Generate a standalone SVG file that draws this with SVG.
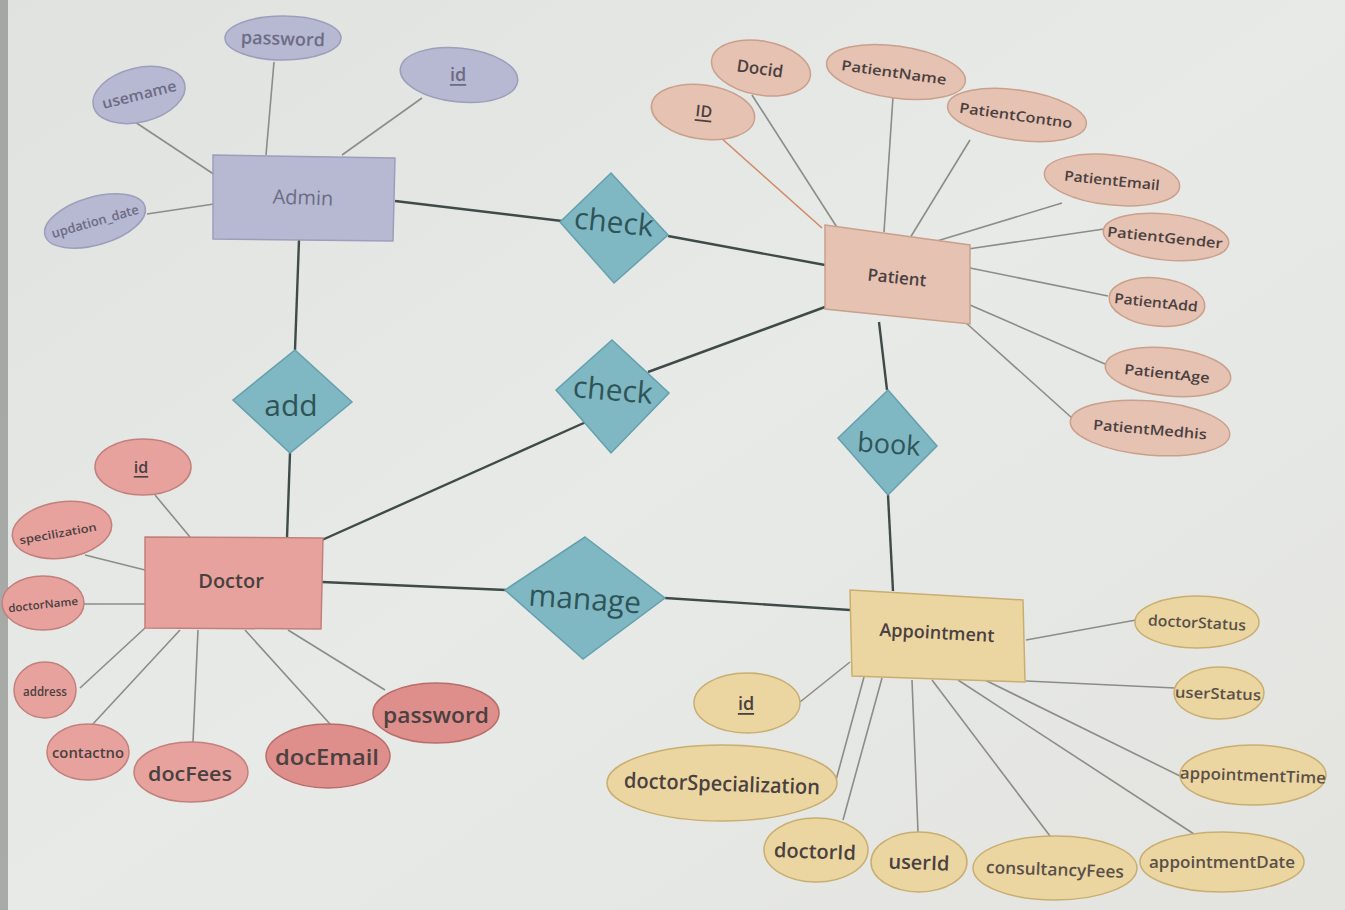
<svg xmlns="http://www.w3.org/2000/svg" width="1345" height="910" viewBox="0 0 1345 910">
<defs>
<linearGradient id="bg" x1="0" y1="0" x2="1" y2="1">
<stop offset="0" stop-color="#e0e2df"/>
<stop offset="0.5" stop-color="#e8eae7"/>
<stop offset="1" stop-color="#e3e4e0"/>
</linearGradient>
</defs>
<style>
text{font-family:"Open Sans","Noto Sans","Liberation Sans",sans-serif;text-anchor:middle;dominant-baseline:central}
.attr{stroke:#8c8c88;stroke-width:1.6;fill:none}
.rel{stroke:#3e4b49;stroke-width:2.4;fill:none}
.adm{fill:#b7b8d2;stroke:#9d9ebb;stroke-width:1.5}
.pat{fill:#e6c2b2;stroke:#caa08c;stroke-width:1.5}
.doc{fill:#e8a29e;stroke:#c2807c;stroke-width:1.5}
.doc2{fill:#de8e8b;stroke:#b86e6a;stroke-width:1.5}
.app{fill:#ebd6a2;stroke:#c9ae70;stroke-width:1.5}
.dia{fill:#7fb7c3;stroke:#64a0ad;stroke-width:1.5}
.dt{fill:#2f5457;font-size:30px}
.at2{fill:#4a4040;font-weight:600}
.apt{fill:#5a5048;font-weight:600}
.adt{fill:#6c6c84;font-weight:600}
</style>
<rect width="1345" height="910" fill="url(#bg)"/>
<rect x="0" y="0" width="8" height="910" fill="#6a6c6a" opacity="0.5"/>

<g id="connectors">
<line class="attr" x1="135" y1="122" x2="215" y2="175"/>
<line class="attr" x1="274" y1="62" x2="266" y2="155"/>
<line class="attr" x1="422" y1="98" x2="342" y2="155"/>
<line class="attr" x1="147" y1="214" x2="214" y2="204"/>
<line x1="720" y1="137" x2="822" y2="228" stroke="#d08a6a" stroke-width="1.6"/>
<line class="attr" x1="752" y1="95" x2="840" y2="232"/>
<line class="attr" x1="893" y1="97" x2="884" y2="232"/>
<line class="attr" x1="970" y1="140" x2="910" y2="238"/>
<line class="attr" x1="1062" y1="203" x2="937" y2="241"/>
<line class="attr" x1="1104" y1="229" x2="968" y2="249"/>
<line class="attr" x1="1108" y1="296" x2="970" y2="268"/>
<line class="attr" x1="1105" y1="364" x2="970" y2="305"/>
<line class="attr" x1="1072" y1="418" x2="965" y2="322"/>
<line class="attr" x1="155" y1="495" x2="190" y2="537"/>
<line class="attr" x1="85" y1="555" x2="145" y2="570"/>
<line class="attr" x1="83" y1="604" x2="145" y2="604"/>
<line class="attr" x1="80" y1="688" x2="145" y2="628"/>
<line class="attr" x1="92" y1="725" x2="180" y2="630"/>
<line class="attr" x1="193" y1="742" x2="198" y2="630"/>
<line class="attr" x1="330" y1="724" x2="245" y2="630"/>
<line class="attr" x1="385" y1="690" x2="288" y2="630"/>
<line class="attr" x1="1026" y1="640" x2="1136" y2="620"/>
<line class="attr" x1="1026" y1="681" x2="1175" y2="688"/>
<line class="attr" x1="985" y1="680" x2="1180" y2="776"/>
<line class="attr" x1="958" y1="680" x2="1197" y2="836"/>
<line class="attr" x1="932" y1="680" x2="1050" y2="836"/>
<line class="attr" x1="912" y1="680" x2="918" y2="832"/>
<line class="attr" x1="882" y1="678" x2="843" y2="820"/>
<line class="attr" x1="864" y1="677" x2="836" y2="780"/>
<line class="attr" x1="850" y1="662" x2="800" y2="702"/>
<line class="rel" x1="395" y1="201" x2="562" y2="221"/>
<line class="rel" x1="668" y1="236" x2="825" y2="265"/>
<line class="rel" x1="825" y1="307" x2="648" y2="372"/>
<line class="rel" x1="586" y1="422" x2="322" y2="540"/>
<line class="rel" x1="299" y1="240" x2="295" y2="350"/>
<line class="rel" x1="290" y1="453" x2="287" y2="538"/>
<line class="rel" x1="322" y1="582" x2="506" y2="590"/>
<line class="rel" x1="665" y1="598" x2="850" y2="610"/>
<line class="rel" x1="879" y1="322" x2="887" y2="390"/>
<line class="rel" x1="888" y1="495" x2="893" y2="591"/>
</g>

<g id="admin">
<polygon class="adm" points="213,155 395,158 393,241 213,239"/>
<text x="303" y="197" font-size="20" class="adt" style="font-weight:400" transform="rotate(2 303 197)">Admin</text>
</g>
<g id="admin-password">
<ellipse class="adm" cx="283" cy="38" rx="58" ry="22"/>
<text x="283" y="38" font-size="18" class="adt" transform="rotate(2 283 38)">password</text>
</g>
<g id="admin-id">
<ellipse class="adm" cx="459" cy="75" rx="59" ry="27" transform="rotate(6 459 75)"/>
<text x="458" y="74" font-size="18" class="adt" text-decoration="underline">id</text>
</g>
<g id="admin-username">
<ellipse class="adm" cx="139" cy="95" rx="47" ry="27" transform="rotate(-14 139 95)"/>
<text x="139" y="94" font-size="15" class="adt" transform="rotate(-14 139 94)" textLength="76" lengthAdjust="spacingAndGlyphs">usemame</text>
</g>
<g id="admin-updation">
<ellipse class="adm" cx="95" cy="221" rx="52" ry="24" transform="rotate(-16 95 221)"/>
<text x="95" y="221" font-size="13" class="adt" transform="rotate(-16 95 221)" textLength="90" lengthAdjust="spacingAndGlyphs">updation_date</text>
</g>

<g id="check-admin-patient">
<polygon class="dia" points="611,173 668,235 614,283 560,222"/>
<text class="dt" x="614" y="221" transform="rotate(6 614 221)">check</text>
</g>
<g id="check-doctor-patient">
<polygon class="dia" points="612,340 669,393 611,453 556,390"/>
<text class="dt" x="613" y="389" transform="rotate(5 613 389)">check</text>
</g>
<g id="add">
<polygon class="dia" points="295,350 352,402 290,453 233,400"/>
<text class="dt" x="291" y="404">add</text>
</g>
<g id="manage">
<polygon class="dia" points="585,537 665,598 583,659 505,590"/>
<text class="dt" x="585" y="598" transform="rotate(4 585 598)">manage</text>
</g>
<g id="book">
<polygon class="dia" points="888,390 937,446 888,495 838,438"/>
<text class="dt" x="889" y="443" style="font-size:27px" transform="rotate(4 889 443)">book</text>
</g>

<g id="patient">
<polygon class="pat" points="825,225 970,245 970,324 825,309"/>
<text x="897" y="277" font-size="17" class="at2" transform="rotate(6 897 277)">Patient</text>
</g>
<g id="patient-ID">
<ellipse class="pat" cx="703" cy="112" rx="52" ry="27" transform="rotate(8 703 112)"/>
<text x="704" y="111" font-size="16" class="at2" text-decoration="underline" transform="rotate(6 704 111)">ID</text>
</g>
<g id="patient-docid">
<ellipse class="pat" cx="761" cy="68" rx="50" ry="27" transform="rotate(10 761 68)"/>
<text x="760" y="68" font-size="17" class="at2" transform="rotate(8 760 68)">Docid</text>
</g>
<g id="patient-name">
<ellipse class="pat" cx="896" cy="72" rx="70" ry="26" transform="rotate(8 896 72)"/>
<text x="894" y="72" font-size="14" class="at2" transform="rotate(8 894 72)" textLength="106" lengthAdjust="spacingAndGlyphs">PatientName</text>
</g>
<g id="patient-contno">
<ellipse class="pat" cx="1017" cy="115" rx="70" ry="25" transform="rotate(8 1017 115)"/>
<text x="1016" y="115" font-size="14" class="at2" transform="rotate(8 1016 115)" textLength="114" lengthAdjust="spacingAndGlyphs">PatientContno</text>
</g>
<g id="patient-email">
<ellipse class="pat" cx="1112" cy="180" rx="68" ry="25" transform="rotate(6 1112 180)"/>
<text x="1112" y="180" font-size="14" class="at2" transform="rotate(6 1112 180)" textLength="96" lengthAdjust="spacingAndGlyphs">PatientEmail</text>
</g>
<g id="patient-gender">
<ellipse class="pat" cx="1166" cy="237" rx="63" ry="23" transform="rotate(6 1166 237)"/>
<text x="1165" y="237" font-size="14" class="at2" transform="rotate(6 1165 237)" textLength="116" lengthAdjust="spacingAndGlyphs">PatientGender</text>
</g>
<g id="patient-add">
<ellipse class="pat" cx="1157" cy="302" rx="48" ry="24" transform="rotate(6 1157 302)"/>
<text x="1156" y="302" font-size="14" class="at2" transform="rotate(6 1156 302)" textLength="84" lengthAdjust="spacingAndGlyphs">PatientAdd</text>
</g>
<g id="patient-age">
<ellipse class="pat" cx="1168" cy="372" rx="63" ry="24" transform="rotate(6 1168 372)"/>
<text x="1167" y="373" font-size="14" class="at2" transform="rotate(6 1167 373)" textLength="86" lengthAdjust="spacingAndGlyphs">PatientAge</text>
</g>
<g id="patient-medhis">
<ellipse class="pat" cx="1150" cy="428" rx="80" ry="27" transform="rotate(5 1150 428)"/>
<text x="1150" y="429" font-size="14" class="at2" transform="rotate(5 1150 429)" textLength="114" lengthAdjust="spacingAndGlyphs">PatientMedhis</text>
</g>

<g id="doctor">
<polygon class="doc" points="145,537 323,538 321,629 145,628"/>
<text x="231" y="580" font-size="20" class="at2">Doctor</text>
</g>
<g id="doctor-id">
<ellipse class="doc" cx="143" cy="467" rx="48" ry="28"/>
<text x="141" y="467" font-size="16" class="at2" text-decoration="underline">id</text>
</g>
<g id="doctor-specilization">
<ellipse class="doc" cx="62" cy="530" rx="50" ry="28" transform="rotate(-8 62 530)"/>
<text x="58" y="533" font-size="11" class="at2" transform="rotate(-10 58 533)" textLength="78" lengthAdjust="spacingAndGlyphs">specilization</text>
</g>
<g id="doctor-name">
<ellipse class="doc" cx="43" cy="603" rx="41" ry="27"/>
<text x="43" y="604" font-size="11" class="at2" transform="rotate(-6 43 604)" textLength="70" lengthAdjust="spacingAndGlyphs">doctorName</text>
</g>
<g id="doctor-address">
<ellipse class="doc" cx="45" cy="690" rx="31" ry="28"/>
<text x="45" y="691" font-size="12" class="at2" textLength="44" lengthAdjust="spacingAndGlyphs">address</text>
</g>
<g id="doctor-contactno">
<ellipse class="doc" cx="88" cy="752" rx="41" ry="28"/>
<text x="88" y="752" font-size="14" class="at2" textLength="72" lengthAdjust="spacingAndGlyphs">contactno</text>
</g>
<g id="doctor-fees">
<ellipse class="doc" cx="191" cy="772" rx="57" ry="30"/>
<text x="190" y="773" font-size="20" class="at2" textLength="84" lengthAdjust="spacingAndGlyphs">docFees</text>
</g>
<g id="doctor-email">
<ellipse class="doc2" cx="328" cy="756" rx="62" ry="32"/>
<text x="327" y="756" font-size="22" class="at2" textLength="104" lengthAdjust="spacingAndGlyphs">docEmail</text>
</g>
<g id="doctor-password">
<ellipse class="doc2" cx="436" cy="713" rx="63" ry="30"/>
<text x="436" y="714" font-size="22" class="at2" textLength="106" lengthAdjust="spacingAndGlyphs">password</text>
</g>

<g id="appointment">
<polygon class="app" points="850,590 1023,600 1025,682 852,676"/>
<text x="937" y="632" font-size="18" class="at2" transform="rotate(3 937 632)">Appointment</text>
</g>
<g id="app-doctorStatus">
<ellipse class="app" cx="1197" cy="622" rx="62" ry="26"/>
<text x="1197" y="622" font-size="15" class="apt" transform="rotate(3 1197 622)" textLength="98" lengthAdjust="spacingAndGlyphs">doctorStatus</text>
</g>
<g id="app-userStatus">
<ellipse class="app" cx="1219" cy="693" rx="45" ry="26"/>
<text x="1218" y="693" font-size="15" class="apt" transform="rotate(2 1218 693)" textLength="86" lengthAdjust="spacingAndGlyphs">userStatus</text>
</g>
<g id="app-appointmentTime">
<ellipse class="app" cx="1253" cy="775" rx="73" ry="30"/>
<text x="1253" y="775" font-size="16" class="apt" transform="rotate(2 1253 775)" textLength="146" lengthAdjust="spacingAndGlyphs">appointmentTime</text>
</g>
<g id="app-appointmentDate">
<ellipse class="app" cx="1222" cy="862" rx="82" ry="30"/>
<text x="1222" y="862" font-size="16" class="apt" textLength="146" lengthAdjust="spacingAndGlyphs">appointmentDate</text>
</g>
<g id="app-consultancyFees">
<ellipse class="app" cx="1055" cy="868" rx="82" ry="32"/>
<text x="1055" y="869" font-size="17" class="apt" transform="rotate(2 1055 869)" textLength="138" lengthAdjust="spacingAndGlyphs">consultancyFees</text>
</g>
<g id="app-userId">
<ellipse class="app" cx="919" cy="862" rx="48" ry="30"/>
<text x="919" y="862" font-size="20" class="at2" transform="rotate(2 919 862)">userId</text>
</g>
<g id="app-doctorId">
<ellipse class="app" cx="816" cy="850" rx="52" ry="32"/>
<text x="815" y="851" font-size="20" class="at2" transform="rotate(2 815 851)">doctorId</text>
</g>
<g id="app-doctorSpecialization">
<ellipse class="app" cx="722" cy="783" rx="115" ry="38"/>
<text x="722" y="783" font-size="21" class="at2" transform="rotate(2 722 783)" textLength="196" lengthAdjust="spacingAndGlyphs">doctorSpecialization</text>
</g>
<g id="app-id">
<ellipse class="app" cx="747" cy="703" rx="53" ry="30"/>
<text x="746" y="703" font-size="18" class="at2" text-decoration="underline">id</text>
</g>
</svg>
